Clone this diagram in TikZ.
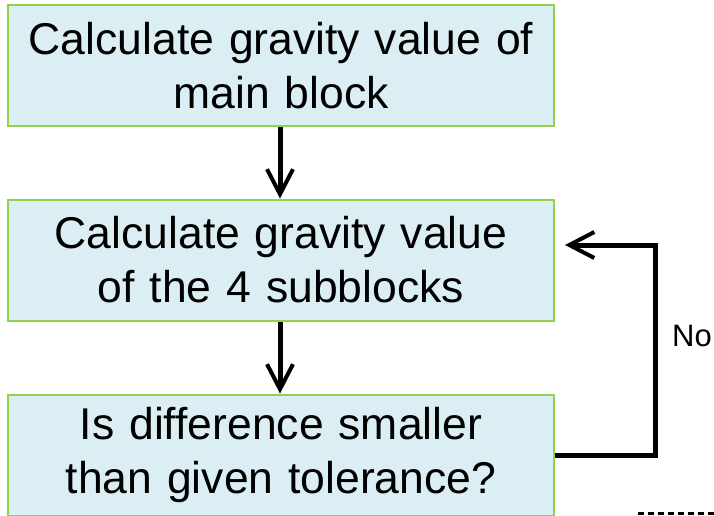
\documentclass[tikz,border=0pt]{standalone}
\usepackage{fontspec}
\setmainfont{Liberation Sans}
\usetikzlibrary{arrows.meta}
\definecolor{boxfill}{HTML}{DAEEF3}
\definecolor{boxline}{HTML}{92D050}
\begin{document}
\begin{tikzpicture}[x=1pt,y=-1pt,
  stepbox/.style={draw=boxline, fill=boxfill, line width=2pt, inner sep=0pt,
    text width=546pt, minimum height=121pt, align=center,
    font=\fontsize{44.5}{54}\selectfont},
  flow/.style={line width=5pt, -{Straight Barb[length=25pt,width=26pt,line width=4pt]}},
  lbl/.style={font=\fontsize{31}{36}\selectfont, inner sep=0pt}
]
\useasboundingbox (0,0) rectangle (714,515);
\node[stepbox] (b1) at (281,65.5) {Calculate gravity value of\\main block};
\node[stepbox] (b2) at (281,260) {Calculate gravity value\\of the 4 subblocks};
\node[stepbox] (b3) at (281,455) {Is difference smaller\\than given tolerance?};
\draw[flow] (b1.south -| 280,0) -- (b2.north -| 280,0);
\draw[flow] (b2.south -| 280,0) -- (b3.north -| 280,0);
\coordinate (fbend) at (655,245);
\coordinate (fend) at (565,245);
\draw[flow, line join=miter] (b3.east) -| (fbend) -- (fend);
\node[lbl, anchor=west] (no) at (672,336) {No};
\coordinate (d1) at (638,513);
\coordinate (d2) at (714,513);
\draw[line width=3pt, dash pattern=on 6pt off 4pt] (d1) -- (d2);
\end{tikzpicture}
\end{document}
